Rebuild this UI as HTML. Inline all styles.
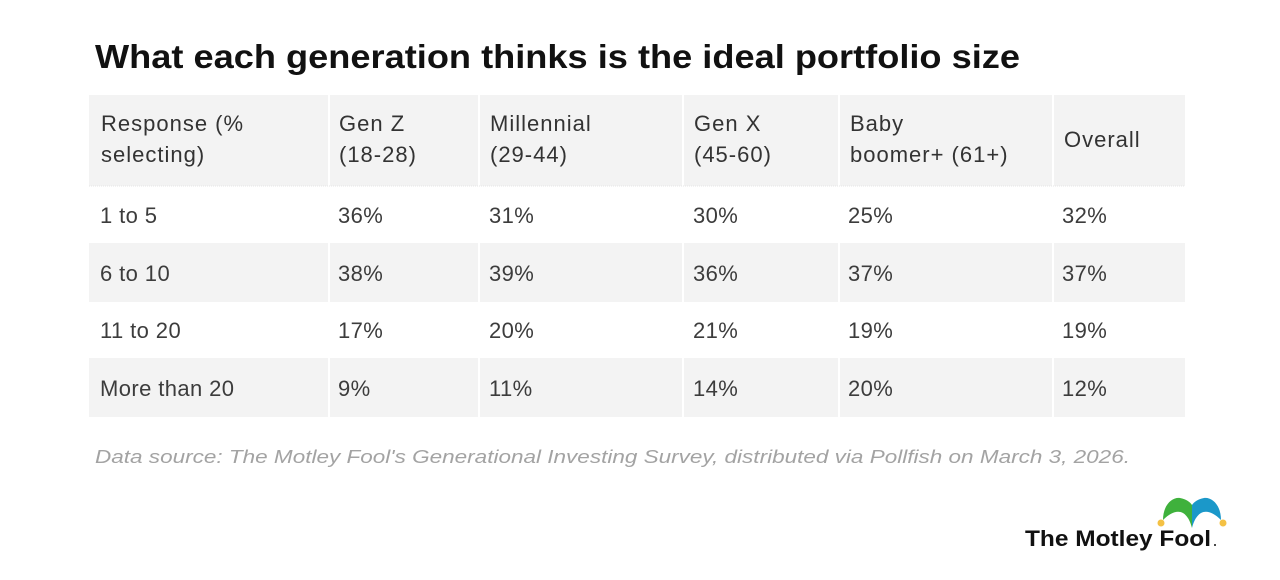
<!DOCTYPE html>
<html>
<head>
<meta charset="utf-8">
<style>
  html, body { margin: 0; padding: 0; background: #ffffff; }
  svg { display: block; }
  .h { font-family: "Liberation Sans", sans-serif; font-size: 22px; fill: #333333; letter-spacing: 1px; }
  .d { font-family: "Liberation Sans", sans-serif; font-size: 22px; fill: #3c3c3c; letter-spacing: 0.4px; }
</style>
</head>
<body>
<svg width="1280" height="580" viewBox="0 0 1280 580" xmlns="http://www.w3.org/2000/svg">
  <rect x="0" y="0" width="1280" height="580" fill="#ffffff"/>

  <!-- Title -->
  <text x="95" y="68" font-family="Liberation Sans, sans-serif" font-weight="bold" font-size="33" fill="#111111" textLength="925" lengthAdjust="spacingAndGlyphs">What each generation thinks is the ideal portfolio size</text>

  <!-- Table backgrounds -->
  <g fill="#f3f3f3">
    <rect x="89" y="95" width="239" height="91"/>
    <rect x="330" y="95" width="148" height="91"/>
    <rect x="480" y="95" width="202" height="91"/>
    <rect x="684" y="95" width="154" height="91"/>
    <rect x="840" y="95" width="212" height="91"/>
    <rect x="1054" y="95" width="131" height="91"/>
    <rect x="89" y="243" width="239" height="59"/>
    <rect x="330" y="243" width="148" height="59"/>
    <rect x="480" y="243" width="202" height="59"/>
    <rect x="684" y="243" width="154" height="59"/>
    <rect x="840" y="243" width="212" height="59"/>
    <rect x="1054" y="243" width="131" height="59"/>
    <rect x="89" y="358" width="239" height="59"/>
    <rect x="330" y="358" width="148" height="59"/>
    <rect x="480" y="358" width="202" height="59"/>
    <rect x="684" y="358" width="154" height="59"/>
    <rect x="840" y="358" width="212" height="59"/>
    <rect x="1054" y="358" width="131" height="59"/>
  </g>
  <line x1="89" y1="186" x2="1185" y2="186" stroke="#e6e6e6" stroke-width="1" stroke-dasharray="1,1"/>

  <!-- Header text -->
  <text class="h" x="101" y="131">Response (%</text>
  <text class="h" x="101" y="162">selecting)</text>
  <text class="h" x="339" y="131">Gen Z</text>
  <text class="h" x="339" y="162">(18-28)</text>
  <text class="h" x="490" y="131">Millennial</text>
  <text class="h" x="490" y="162">(29-44)</text>
  <text class="h" x="694" y="131">Gen X</text>
  <text class="h" x="694" y="162">(45-60)</text>
  <text class="h" x="850" y="131">Baby</text>
  <text class="h" x="850" y="162">boomer+ (61+)</text>
  <text class="h" x="1064" y="147">Overall</text>

  <!-- Row 1 -->
  <text class="d" x="100" y="223">1 to 5</text>
  <text class="d" x="338" y="223">36%</text>
  <text class="d" x="489" y="223">31%</text>
  <text class="d" x="693" y="223">30%</text>
  <text class="d" x="848" y="223">25%</text>
  <text class="d" x="1062" y="223">32%</text>

  <!-- Row 2 -->
  <text class="d" x="100" y="281">6 to 10</text>
  <text class="d" x="338" y="281">38%</text>
  <text class="d" x="489" y="281">39%</text>
  <text class="d" x="693" y="281">36%</text>
  <text class="d" x="848" y="281">37%</text>
  <text class="d" x="1062" y="281">37%</text>

  <!-- Row 3 -->
  <text class="d" x="100" y="338">11 to 20</text>
  <text class="d" x="338" y="338">17%</text>
  <text class="d" x="489" y="338">20%</text>
  <text class="d" x="693" y="338">21%</text>
  <text class="d" x="848" y="338">19%</text>
  <text class="d" x="1062" y="338">19%</text>

  <!-- Row 4 -->
  <text class="d" x="100" y="396">More than 20</text>
  <text class="d" x="338" y="396">9%</text>
  <text class="d" x="489" y="396">11%</text>
  <text class="d" x="693" y="396">14%</text>
  <text class="d" x="848" y="396">20%</text>
  <text class="d" x="1062" y="396">12%</text>

  <!-- Footer -->
  <text x="95" y="463" font-family="Liberation Sans, sans-serif" font-style="italic" font-size="18" fill="#a3a3a3" textLength="1035" lengthAdjust="spacingAndGlyphs">Data source: The Motley Fool's Generational Investing Survey, distributed via Pollfish on March 3, 2026.</text>

  <!-- Logo -->
  <path d="M1163,520 C1163,505 1172,497 1180,498 C1186,499 1190,502 1192,505 L1192,528 C1188,512 1178,505 1163,520 Z" fill="#3fb13c"/>
  <path d="M1192,505 C1194,502 1198,499 1204,498 C1212,497 1221,505 1221,520 C1206,505 1196,512 1192,528 Z" fill="#1b98c9"/>
  <circle cx="1161" cy="523" r="3.5" fill="#f4c144"/>
  <circle cx="1223" cy="523" r="3.5" fill="#f4c144"/>
  <text x="1025" y="546" font-family="Liberation Sans, sans-serif" font-weight="bold" font-size="22" fill="#111111" textLength="186" lengthAdjust="spacingAndGlyphs">The Motley Fool</text>
  <circle cx="1215" cy="545" r="1" fill="#111111"/>
</svg>
</body>
</html>
